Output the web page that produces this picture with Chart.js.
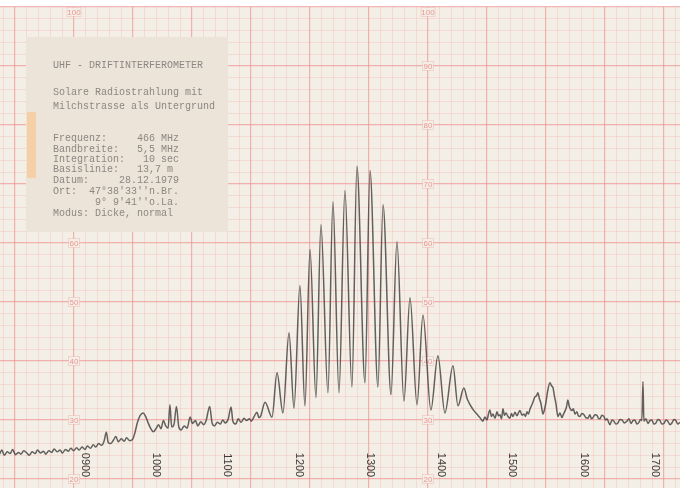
<!DOCTYPE html>
<html>
<head>
<meta charset="utf-8">
<script src="https://cdn.jsdelivr.net/npm/chart.js@4"></script>
<style>
body { margin: 0; background: #fff; }
#wrap { width: 680px; height: 488px; position: relative; }
</style>
</head>
<body>
<div id="wrap"><canvas id="chart"></canvas></div>
<script>
// recorder trace: time in minutes of the day, level in chart divisions
const minutes = [
  468, 470, 472, 474.5, 477, 479, 481.5, 484, 486, 488.5, 491, 493, 495.5, 498, 500, 502.5, 505, 507, 509.5, 512,
  514, 516.5, 519, 521, 523.5, 526, 528, 530.5, 533, 535, 537.5, 540, 542, 544.5, 547, 549, 551.5, 554, 556, 558,
  559.5, 561.5, 564, 566, 568, 570.5, 573, 575, 577.5, 580,
  582, 584, 586.5, 589, 591, 593, 595.5, 597.5, 600, 602, 604, 606, 608, 610, 611.5, 613, 615, 617, 619, 621,
  623.5, 626, 628.5, 630.5, 633, 635, 637.5, 640, 642, 645, 647, 649, 651.5, 654, 656, 658, 660.5, 663, 664.5, 667,
  669, 671.5, 674, 676, 678.5, 680, 682.5, 684.8, 686.5, 688,
  691.6, 697.5, 701.7, 706.7, 711.8, 716, 721, 725.2, 729.5, 734.5, 738.7, 744.6, 748.8, 753.9, 758.9, 764.8,
  769, 775.8, 780, 786.7, 791, 797.7, 802.7, 808.6, 813.7, 819.6, 824.6, 831.3, 837.2, 843.1, 849.9, 854.1,
  859.1, 862, 866.7, 870, 872.6,
  875.1, 876.8, 878.5, 880, 881, 882.3, 883.6, 885.3, 887, 888.2, 889.5, 890.8, 892, 893.2, 894.5, 896.2,
  897.9, 899.1, 900.4, 902.1, 903.8, 905, 906.3, 908, 909.7, 911, 912.2, 913.5, 914.7, 916, 917.2, 918.9,
  920.2, 921.4, 922.7, 924, 925.7, 927, 928.2, 929.9, 931.6, 932.9, 934.1, 935.4, 936.6, 938.3, 940, 941.7,
  943, 944.2, 945.5, 946.7, 947.6, 948.4, 950.1, 951.3, 952.6, 954.3, 955.5, 956.8, 958.5, 960.2, 961.8, 963.5,
  965.2, 966.5, 967.8, 969.5, 971.1, 972.4, 973.7, 975.3, 977, 978.3, 979.6, 981, 982.1, 983.8, 985.4, 987.1,
  988.8, 990.5, 992.2, 994.3, 996.4, 998.1, 999.8, 1001.5, 1003.1, 1004.8, 1006.5, 1007.8, 1009, 1009.9, 1010.7, 1012.4,
  1014.1, 1015.8, 1017.4, 1019.1, 1020.8, 1022.5, 1024.2, 1025.9, 1027.6, 1029.3, 1030.9, 1032.6, 1034.3, 1036, 1037.6, 1039.3,
  1041
];
const level = [
  24.2, 24.9, 24.0, 24.6, 24.3, 25.0, 24.1, 24.5, 24.2, 24.8, 24.4, 24.0, 24.6, 24.3, 24.9, 24.4, 24.7, 24.2, 24.8, 24.5,
  25.1, 24.6, 24.9, 24.4, 25.0, 24.7, 25.2, 24.8, 25.3, 24.9, 25.4, 25.0, 25.6, 25.2, 25.8, 25.4, 26.0, 25.7, 26.4, 27.9,
  26.2, 26.0, 26.6, 27.2, 26.3, 26.8, 26.4, 27.0, 26.5, 26.7,
  27.8, 29.5, 30.8, 31.2, 30.6, 29.6, 28.5, 28.0, 28.6, 29.2, 28.5, 29.9, 29.0, 28.6, 32.6, 28.8, 29.3, 32.3, 28.8, 28.3,
  29.0, 28.6, 30.5, 29.4, 29.9, 29.0, 29.7, 29.2, 29.9, 32.3, 29.5, 29.0, 29.6, 29.3, 30.0, 29.5, 30.1, 32.2, 29.8, 29.3,
  30.2, 29.6, 30.3, 29.9, 30.2, 29.8, 30.6, 31.3, 30.4, 30.7,
  33.0, 30.5, 38.0, 31.2, 44.8, 32.0, 52.8, 32.4, 58.9, 33.8, 63.1, 34.6, 67.0, 34.6, 68.9, 35.6,
  73.0, 36.3, 72.3, 35.6, 66.5, 34.3, 60.2, 33.2, 50.7, 32.6, 47.8, 31.7, 40.9, 31.2, 39.2, 32.4,
  35.4, 33.5, 31.8, 31.0, 30.4,
  29.8, 30.5, 30.0, 31.2, 31.7, 30.6, 31.0, 30.3, 31.4, 30.7, 30.9, 30.2, 31.9, 30.8, 31.2, 30.6,
  30.3, 31.1, 30.6, 31.3, 30.7, 31.2, 31.6, 30.8, 31.0, 30.6, 31.4, 31.0, 31.8, 32.4, 33.0, 33.9,
  34.1, 34.6, 33.6, 32.8, 31.0, 31.8, 33.0, 35.2, 36.3, 35.8, 35.5, 34.0, 32.8, 30.6, 31.2, 30.4,
  31.0, 31.5, 32.2, 33.4, 32.5, 32.0, 31.6, 31.9, 31.0, 31.4, 30.7, 30.6, 31.1, 30.9, 30.4, 30.3,
  30.9, 30.2, 30.4, 30.9, 30.8, 30.3, 30.2, 30.8, 30.6, 30.0, 30.2, 29.6, 29.2, 30.0, 29.8, 29.3,
  29.5, 30.1, 30.0, 29.5, 29.8, 30.2, 29.4, 29.9, 30.0, 29.3, 29.6, 30.1, 29.9, 36.5, 29.8, 30.2,
  29.4, 29.9, 30.0, 29.3, 29.5, 30.1, 29.9, 29.3, 29.4, 30.0, 29.8, 29.2, 29.5, 30.1, 29.9, 29.3,
  29.6
];

const timeTicks = [540, 600, 660, 720, 780, 840, 900, 960, 1020];
const timeLabels = ['0900', '1000', '1100', '1200', '1300', '1400', '1500', '1600', '1700'];
const scaleMarks = [100, 90, 80, 70, 60, 50, 40, 30, 20];
const noteLines = [
  'UHF - DRIFTINTERFEROMETER',
  'Solare Radiostrahlung mit',
  'Milchstrasse als Untergrund',
  'Frequenz:     466 MHz',
  'Bandbreite:   5,5 MHz',
  'Integration:   10 sec',
  'Basislinie:   13,7 m',
  'Datum:     28.12.1979',
  "Ort:  47°38'33''n.Br.",
  "       9° 9'41''o.La.",
  'Modus: Dicke, normal'
];

const paperColor = '#f4efe6';
const majorLine = 'rgba(238,138,138,0.62)';
const minorLine = 'rgba(238,160,160,0.32)';

function isMajor(v) {
  return Math.abs(v / 10 - Math.round(v / 10)) < 1e-6;
}

function gridTicks(from, to) {
  return axis => {
    axis.ticks = [];
    for (let v = from; v <= to; v += 2) axis.ticks.push({ value: v });
  };
}

const gridOpts = {
  drawTicks: false,
  color: c => isMajor(c.tick.value) ? majorLine : minorLine,
  lineWidth: c => isMajor(c.tick.value) ? 1.2 : 0.8
};

const paperPlugin = {
  id: 'paper',
  beforeDraw(chart) {
    const { ctx, chartArea: a } = chart;
    ctx.save();
    ctx.fillStyle = paperColor;
    ctx.fillRect(a.left, a.top, a.right - a.left, a.bottom - a.top);
    ctx.restore();
  },
  beforeDatasetsDraw(chart) {
    const { ctx, chartArea: a } = chart;
    const gx = chart.scales.gx, y = chart.scales.y;
    ctx.save();
    ctx.font = '8px "Liberation Sans"';
    ctx.textAlign = 'center';
    ctx.textBaseline = 'middle';
    [10, 70].forEach(col => {
      const px = gx.getPixelForValue(col);
      scaleMarks.forEach(v => {
        const py = Math.max(y.getPixelForValue(v), a.top + 5);
        const w = v === 100 ? 14 : 11;
        ctx.fillStyle = paperColor;
        ctx.fillRect(px - w / 2, py - 4.5, w, 9);
        ctx.strokeStyle = 'rgba(236,140,140,0.35)';
        ctx.lineWidth = 0.8;
        ctx.strokeRect(px - w / 2, py - 4.5, w, 9);
        ctx.fillStyle = 'rgba(232,125,125,0.8)';
        ctx.fillText(String(v), px, py + 0.5);
      });
    });
    ctx.restore();
  },
  afterDatasetsDraw(chart) {
    const { ctx } = chart;
    const x = chart.scales.x;
    ctx.save();
    // hour marks written across the bottom
    ctx.font = '11px "Liberation Sans"';
    ctx.fillStyle = '#3d3b3a';
    ctx.textAlign = 'center';
    ctx.textBaseline = 'middle';
    timeTicks.forEach((t, i) => {
      ctx.save();
      ctx.translate(x.getPixelForValue(t), 465);
      ctx.rotate(Math.PI / 2);
      ctx.fillText(timeLabels[i], 0, 0);
      ctx.restore();
    });
    // typed note glued on the paper
    ctx.fillStyle = '#ede4d9';
    ctx.fillRect(26, 37, 202, 195);
    ctx.fillStyle = 'rgba(246,204,156,0.85)';
    ctx.fillRect(27, 112, 9, 66);
    ctx.font = '10px "Liberation Mono"';
    ctx.fillStyle = '#8c8782';
    ctx.textAlign = 'left';
    const rows = [65, 92, 106, 138, 149, 159, 169, 180, 191, 202, 213];
    noteLines.forEach((s, i) => ctx.fillText(s, 53, rows[i]));
    ctx.restore();
  }
};

new Chart(document.getElementById('chart'), {
  type: 'line',
  data: {
    datasets: [{
      data: minutes.map((m, i) => ({ x: m, y: level[i] })),
      borderColor: 'rgba(72,70,68,0.85)',
      borderWidth: 1.5,
      pointRadius: 0,
      cubicInterpolationMode: 'monotone',
      xAxisID: 'x',
      yAxisID: 'y'
    }]
  },
  options: {
    responsive: true,
    maintainAspectRatio: false,
    animation: false,
    layout: { padding: { top: 7, left: 0, right: 0, bottom: 0 } },
    plugins: { legend: { display: false }, tooltip: { enabled: false } },
    scales: {
      x: { type: 'linear', min: 468.4, max: 1041.1, display: false },
      gx: {
        type: 'linear', position: 'bottom', min: -2.54, max: 112.7,
        afterBuildTicks: gridTicks(-2, 112),
        ticks: { display: false },
        border: { display: false },
        grid: gridOpts
      },
      y: {
        type: 'linear', min: 18.47, max: 100,
        afterBuildTicks: gridTicks(20, 100),
        ticks: { display: false },
        border: { display: false },
        grid: gridOpts
      }
    }
  },
  plugins: [paperPlugin]
});
</script>
</body>
</html>
